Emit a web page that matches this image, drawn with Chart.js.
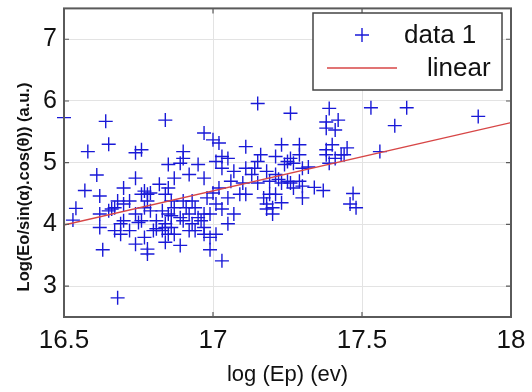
<!DOCTYPE html>
<html>
<head>
<meta charset="utf-8">
<script src="https://cdn.jsdelivr.net/npm/chart.js@4.4.1/dist/chart.umd.min.js"></script>
<style>
  body { margin: 0; background: #fff; }
  #wrap { width: 532px; height: 392px; }
</style>
</head>
<body>
<div id="wrap"><canvas id="scatterChart" width="532" height="392"></canvas></div>
<script>
"use strict";

// measured points, log (Ep) vs Log(Eo/...)
var xValues = [
	16.50, 16.64, 16.84, 17.15, 17.26, 17.39, 17.53, 17.65, 17.61, 17.89,
	17.56, 16.58, 16.65, 16.97, 16.76, 16.74, 16.61, 16.57, 16.54, 16.53,
	16.62, 16.63, 16.68, 17.03, 16.99, 17.37, 17.34, 17.47, 17.46, 17.48,
	17.45, 17.44, 17.38, 17.41, 17.42, 17.38, 17.40, 17.38, 17.41, 17.39,
	17.38, 17.43, 17.29, 17.23, 17.11, 17.02, 17.00, 17.16, 17.21, 17.26,
	17.29, 17.27, 17.30, 17.32, 16.90, 16.90, 16.89, 16.85, 16.87, 16.92,
	16.95, 16.97, 17.03, 17.05, 17.01, 17.03, 17.07, 17.06, 17.11, 17.13,
	17.14, 17.15, 17.10, 17.09, 17.11, 17.18, 17.21, 17.19, 17.22, 17.23,
	17.25, 17.26, 17.29, 17.17, 17.19, 17.18, 17.18, 17.20, 17.21, 17.23,
	17.20, 17.30, 17.30, 17.27, 17.00, 17.02, 17.05, 17.01, 17.03, 17.07,
	17.05, 17.01, 16.99, 16.82, 16.84, 16.85, 16.86, 16.83, 16.85, 16.87,
	16.89, 16.84, 16.86, 16.83, 16.85, 16.87, 16.84, 16.89, 16.90, 16.91,
	16.93, 16.92, 16.94, 16.95, 16.97, 16.93, 16.96, 16.97, 16.94, 16.97,
	16.92, 16.90, 16.98, 16.99, 16.62, 16.65, 16.67, 16.62, 16.67, 16.69,
	16.69, 16.70, 16.74, 16.70, 16.72, 16.74, 16.76, 16.76, 16.77, 16.78,
	16.77, 16.79, 16.74, 16.77, 16.78, 16.78, 16.70, 16.72, 16.80, 16.81,
	16.78, 16.79, 16.66, 16.75, 16.81, 16.84, 16.86, 17.24, 17.25, 17.15,
	16.68
];
var yValues = [
	5.73, 5.67, 5.69, 5.96, 5.80, 5.88, 5.89, 5.89, 5.60, 5.75,
	5.18, 5.18, 5.30, 5.48, 5.21, 5.16, 4.80, 4.55, 4.26, 4.07,
	4.46, 3.59, 2.81, 3.41, 3.59, 4.55, 4.60, 4.50, 4.33, 4.27,
	5.24, 5.13, 5.56, 5.53, 5.69, 5.66, 5.29, 5.13, 5.07, 4.99,
	5.21, 5.13, 5.29, 5.29, 5.26, 5.32, 5.37, 5.13, 5.10, 5.07,
	5.13, 4.99, 4.91, 4.93, 5.18, 5.07, 4.99, 4.97, 4.75, 4.81,
	4.97, 4.75, 5.10, 5.07, 5.02, 4.91, 4.86, 4.70, 4.91, 4.81,
	4.91, 4.67, 4.67, 4.49, 4.49, 4.86, 4.81, 4.70, 4.73, 4.67,
	4.70, 4.67, 4.70, 4.43, 4.49, 4.33, 4.25, 4.17, 4.49, 4.35,
	4.27, 4.43, 4.62, 4.59, 4.51, 4.59, 4.43, 4.33, 4.25, 4.17,
	4.01, 3.84, 3.79, 4.65, 4.49, 4.59, 4.38, 4.22, 4.17, 4.27,
	4.11, 4.01, 3.95, 3.90, 3.84, 3.84, 3.71, 3.66, 4.38, 4.27,
	4.38, 4.17, 4.27, 4.11, 4.17, 4.01, 4.06, 3.95, 3.90, 3.84,
	3.90, 4.06, 4.43, 4.17, 4.17, 4.22, 4.27, 3.95, 3.90, 3.84,
	4.01, 4.59, 4.75, 4.33, 4.38, 4.17, 4.06, 4.49, 4.54, 4.38,
	4.27, 4.22, 3.68, 3.79, 3.52, 3.60, 4.06, 3.90, 3.90, 4.06,
	4.49, 4.51, 4.25, 4.03, 3.93, 3.95, 4.14, 4.97, 5.02, 5.02,
	4.38
];

// fitted line end points
var fitX = [16.5, 18];
var fitY = [3.99, 5.65];

var xTicks = [16.5, 17, 17.5, 18];
var yTicks = [3, 4, 5, 6, 7];

var seriesNames = ['data 1', 'linear'];
var yTitle = 'Log(Eo/sin(\u03B1).cos(\u03B8)) (a.u.)';
var xTitle = 'log (Ep) (ev)';

var markerColor = 'rgb(25, 25, 215)';
var lineColor = 'rgb(215, 70, 70)';
var fontFamily = '"Liberation Sans", Arial, Helvetica, sans-serif';

function ToPoints(xs, ys) {
	var pts = [];
	for (var i = 0; i < xs.length; i++) {
		pts.push({ x: xs[i], y: ys[i] });
	}
	return pts;
}

function FixTicks(values) {
	return function (scale) {
		scale.ticks = values.map(function (v) { return { value: v }; });
	};
}

// axes box, inward ticks, y title and boxed legend (matlab look)
var matlabFrame = {
	id: 'matlabFrame',
	afterDraw: function (chart) {
		var ctx = chart.ctx;
		var a = chart.chartArea;
		var sx = chart.scales.x;
		var sy = chart.scales.y;
		ctx.save();

		ctx.strokeStyle = '#5a5a5a';
		ctx.lineWidth = 1.2;
		ctx.beginPath();
		xTicks.forEach(function (v) {
			var px = sx.getPixelForValue(v);
			ctx.moveTo(px, a.bottom); ctx.lineTo(px, a.bottom - 5);
			ctx.moveTo(px, a.top); ctx.lineTo(px, a.top + 5);
		});
		yTicks.forEach(function (v) {
			var py = sy.getPixelForValue(v);
			ctx.moveTo(a.left, py); ctx.lineTo(a.left + 5, py);
			ctx.moveTo(a.right, py); ctx.lineTo(a.right - 5, py);
		});
		ctx.stroke();

		ctx.lineWidth = 2;
		ctx.strokeRect(a.left, a.top, a.right - a.left, a.bottom - a.top);

		// y title
		ctx.fillStyle = '#111';
		ctx.font = 'bold 16.5px ' + fontFamily;
		ctx.textAlign = 'center';
		ctx.textBaseline = 'middle';
		ctx.translate(24, 187);
		ctx.rotate(-Math.PI / 2);
		ctx.fillText(yTitle, 0, 0);
		ctx.setTransform(1, 0, 0, 1, 0, 0);

		// legend
		ctx.fillStyle = '#fff';
		ctx.fillRect(313, 13, 189, 77);
		ctx.strokeStyle = '#444';
		ctx.lineWidth = 1.5;
		ctx.strokeRect(313, 13, 189, 77);

		ctx.strokeStyle = markerColor;
		ctx.lineWidth = 1.4;
		ctx.beginPath();
		ctx.moveTo(355, 35); ctx.lineTo(369, 35);
		ctx.moveTo(362, 28); ctx.lineTo(362, 42);
		ctx.stroke();

		ctx.strokeStyle = lineColor;
		ctx.lineWidth = 1.3;
		ctx.beginPath();
		ctx.moveTo(327, 68); ctx.lineTo(397, 68);
		ctx.stroke();

		ctx.fillStyle = '#111';
		ctx.font = '26px ' + fontFamily;
		ctx.textAlign = 'left';
		ctx.fillText(chart.data.datasets[0].label, 404, 36);
		ctx.fillText(chart.data.datasets[1].label, 427, 69);

		ctx.restore();
	}
};

const context = document.getElementById('scatterChart');
const myChart = new Chart(context, {
	type: 'scatter',
	data: {
		datasets: [{
			label: seriesNames[0],
			data: ToPoints(xValues, yValues),
			pointStyle: 'cross',
			pointRadius: 7,
			pointBorderWidth: 1.4,
			borderColor: markerColor,
			backgroundColor: markerColor,
			clip: false,
			order: 2
		}, {
			label: seriesNames[1],
			type: 'line',
			data: ToPoints(fitX, fitY),
			borderColor: lineColor,
			borderWidth: 1.3,
			pointRadius: 0,
			fill: false,
			order: 1
		}]
	},
	plugins: [matlabFrame],
	options: {
		responsive: false,
		animation: false,
		devicePixelRatio: 1,
		layout: {
			padding: { left: 0, right: 21, top: 6, bottom: 0 }
		},
		plugins: {
			legend: { display: false },
			tooltip: { enabled: false }
		},
		scales: {
			x: {
				type: 'linear',
				min: 16.5,
				max: 18,
				afterBuildTicks: FixTicks(xTicks),
				afterFit: function (scale) {
					scale.height = 75;
					scale.paddingLeft = 0;
					scale.paddingRight = 0;
				},
				grid: { color: '#e3e3e3', lineWidth: 1, drawTicks: false },
				border: { display: false },
				ticks: {
					padding: 8,
					color: '#111',
					maxRotation: 0,
					callback: function (value) { return String(value); },
					font: { family: fontFamily, size: 26 }
				},
				title: {
					display: true,
					text: xTitle,
					color: '#111',
					padding: { top: 0, bottom: 4 },
					font: { family: fontFamily, size: 22 }
				}
			},
			y: {
				type: 'linear',
				min: 2.5,
				max: 7.5,
				afterBuildTicks: FixTicks(yTicks),
				afterFit: function (scale) {
					scale.width = 64;
					scale.paddingTop = 0;
					scale.paddingBottom = 0;
				},
				grid: { color: '#e3e3e3', lineWidth: 1, drawTicks: false },
				border: { display: false },
				ticks: {
					padding: 7,
					color: '#111',
					callback: function (value) { return String(value); },
					font: { family: fontFamily, size: 25 }
				}
			}
		}
	}
});
</script>
</body>
</html>
